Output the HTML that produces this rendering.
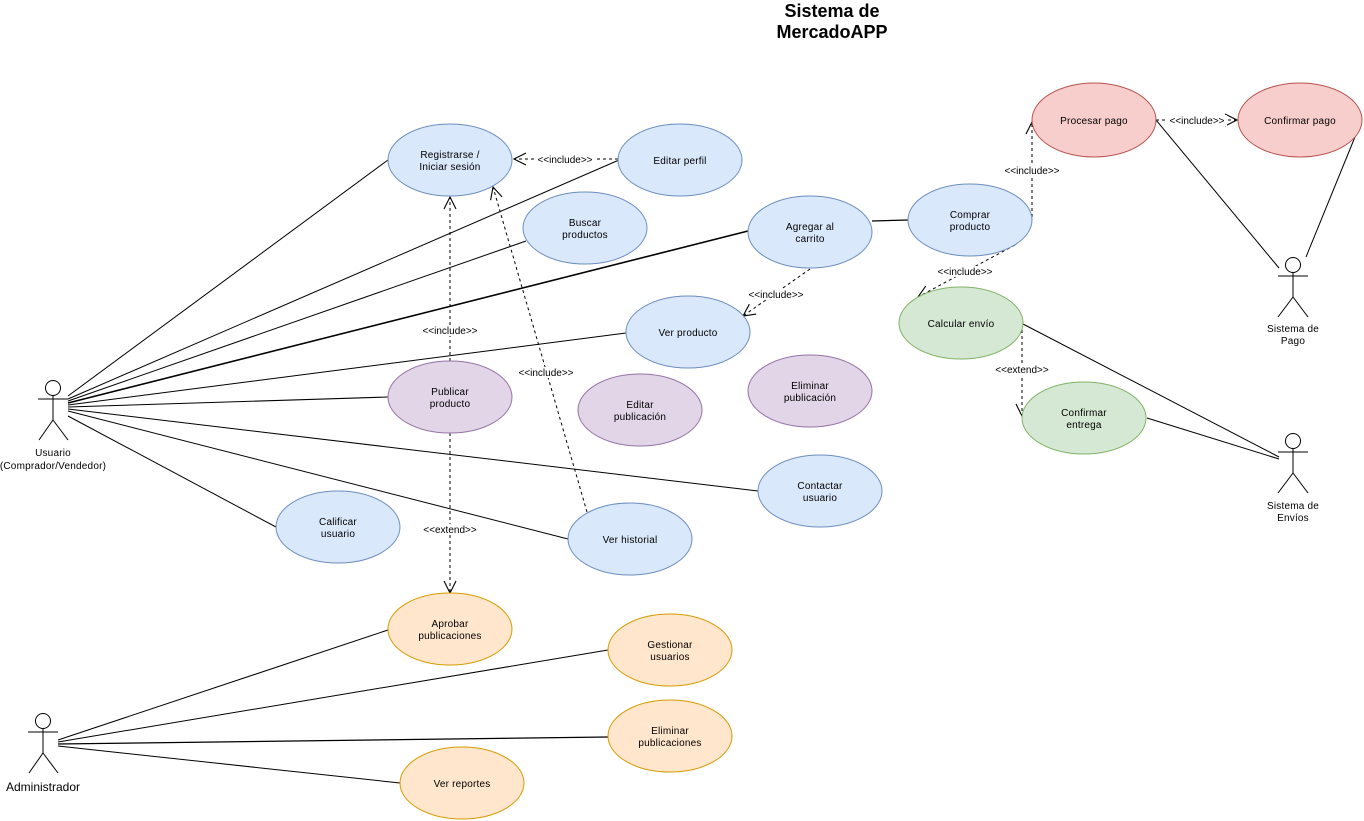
<!DOCTYPE html>
<html><head><meta charset="utf-8">
<style>
html,body{margin:0;padding:0;background:#fff;}
svg{display:block;}
text{font-family:"Liberation Sans",Arial,sans-serif;}
</style></head>
<body>
<svg width="1364" height="821" viewBox="0 0 1364 821" xmlns="http://www.w3.org/2000/svg">
<defs>
<marker id="oa" markerUnits="userSpaceOnUse" markerWidth="16" markerHeight="16" refX="13" refY="7" orient="auto" overflow="visible">
<path d="M1,1 L13,7 L1,13" fill="none" stroke="#000" stroke-width="1.1" stroke-dasharray="none"/>
</marker>
</defs>
<rect width="1364" height="821" fill="#fff"/>

<!-- Title -->
<text x="832" y="17" font-size="18" font-weight="bold" text-anchor="middle">Sistema de</text>
<text x="832" y="38" font-size="18" font-weight="bold" text-anchor="middle">MercadoAPP</text>

<!-- Association lines from Usuario -->
<g stroke="#000" stroke-width="1" fill="none">
<line x1="68" y1="396" x2="388" y2="160"/>
<line x1="68" y1="399" x2="619" y2="160"/>
<line x1="68" y1="401" x2="526" y2="241"/>
<line x1="68" y1="403" x2="748" y2="231" stroke-width="1.6"/>
<line x1="68" y1="405" x2="626" y2="333"/>
<line x1="68" y1="407" x2="388" y2="397"/>
<line x1="68" y1="409" x2="758" y2="491"/>
<line x1="68" y1="411" x2="568" y2="539"/>
<line x1="68" y1="416" x2="276" y2="527"/>
<!-- Administrador -->
<line x1="58" y1="740" x2="388" y2="630"/>
<line x1="58" y1="742" x2="608" y2="650"/>
<line x1="58" y1="744" x2="608" y2="737" stroke-width="1.3"/>
<line x1="58" y1="746" x2="400" y2="783"/>
<!-- Agregar to Comprar -->
<line x1="872" y1="221" x2="908" y2="220" stroke-width="1.3"/>
<!-- Sistema de Pago -->
<line x1="1156" y1="120" x2="1279" y2="268"/>
<line x1="1357" y1="132" x2="1306" y2="257"/>
<!-- Sistema de Envios -->
<line x1="1023" y1="324" x2="1279" y2="457"/>
<line x1="1147" y1="418" x2="1279" y2="459"/>
</g>

<!-- Dashed dependency lines -->
<g stroke="#000" stroke-width="1" fill="none">
<line x1="618" y1="159" x2="514" y2="159" stroke-dasharray="3 3" marker-end="url(#oa)"/>
<line x1="450" y1="361" x2="450" y2="197" stroke-dasharray="3 3" marker-end="url(#oa)"/>
<line x1="587" y1="512" x2="493" y2="187" stroke-dasharray="3 3" marker-end="url(#oa)"/>
<line x1="810" y1="269" x2="743" y2="316" stroke-dasharray="3 3" marker-end="url(#oa)"/>
<line x1="1032" y1="217" x2="1032" y2="122" stroke-dasharray="3 3" marker-end="url(#oa)"/>
<line x1="1015" y1="245" x2="918" y2="297" stroke-dasharray="3 3" marker-end="url(#oa)"/>
<line x1="1156" y1="120" x2="1237" y2="120" stroke-dasharray="3 3" marker-end="url(#oa)"/>
<line x1="1022" y1="330" x2="1022" y2="416" stroke-dasharray="3 3" marker-end="url(#oa)"/>
<line x1="450" y1="433" x2="450" y2="593" stroke-dasharray="3 3" marker-end="url(#oa)"/>
</g>

<!-- Ellipses -->
<g stroke-width="1">
<ellipse cx="450" cy="160" rx="62" ry="36" fill="#dae8fc" stroke="#6c8ebf"/>
<ellipse cx="680" cy="160" rx="62" ry="36" fill="#dae8fc" stroke="#6c8ebf"/>
<ellipse cx="585" cy="228" rx="62" ry="36" fill="#dae8fc" stroke="#6c8ebf"/>
<ellipse cx="810" cy="232" rx="62" ry="36" fill="#dae8fc" stroke="#6c8ebf"/>
<ellipse cx="970" cy="220" rx="62" ry="36" fill="#dae8fc" stroke="#6c8ebf"/>
<ellipse cx="1094" cy="120" rx="62" ry="37" fill="#f8cecc" stroke="#b85450"/>
<ellipse cx="1300" cy="120" rx="62" ry="37" fill="#f8cecc" stroke="#b85450"/>
<ellipse cx="688" cy="332" rx="62" ry="36" fill="#dae8fc" stroke="#6c8ebf"/>
<ellipse cx="961" cy="323" rx="62" ry="36" fill="#d5e8d4" stroke="#82b366"/>
<ellipse cx="1084" cy="418" rx="62" ry="36" fill="#d5e8d4" stroke="#82b366"/>
<ellipse cx="450" cy="397" rx="62" ry="36" fill="#e1d5e7" stroke="#9673a6"/>
<ellipse cx="640" cy="410" rx="62" ry="36" fill="#e1d5e7" stroke="#9673a6"/>
<ellipse cx="810" cy="391" rx="62" ry="36" fill="#e1d5e7" stroke="#9673a6"/>
<ellipse cx="820" cy="491" rx="62" ry="36" fill="#dae8fc" stroke="#6c8ebf"/>
<ellipse cx="338" cy="527" rx="62" ry="36" fill="#dae8fc" stroke="#6c8ebf"/>
<ellipse cx="630" cy="539" rx="62" ry="36" fill="#dae8fc" stroke="#6c8ebf"/>
<ellipse cx="450" cy="629" rx="62" ry="36" fill="#ffe6cc" stroke="#d79b00"/>
<ellipse cx="670" cy="650" rx="62" ry="36" fill="#ffe6cc" stroke="#d79b00"/>
<ellipse cx="670" cy="736" rx="62" ry="36" fill="#ffe6cc" stroke="#d79b00"/>
<ellipse cx="462" cy="783" rx="62" ry="36" fill="#ffe6cc" stroke="#d79b00"/>
</g>

<!-- Ellipse labels -->
<g font-size="10" text-anchor="middle" fill="#000" letter-spacing="0.2">
<text x="450" y="158">Registrarse /</text><text x="450" y="170">Iniciar sesión</text>
<text x="680" y="164">Editar perfil</text>
<text x="585" y="226">Buscar</text><text x="585" y="238">productos</text>
<text x="810" y="230">Agregar al</text><text x="810" y="242">carrito</text>
<text x="970" y="218">Comprar</text><text x="970" y="230">producto</text>
<text x="1094" y="124">Procesar pago</text>
<text x="1300" y="124">Confirmar pago</text>
<text x="688" y="336">Ver producto</text>
<text x="961" y="327">Calcular envío</text>
<text x="1084" y="416">Confirmar</text><text x="1084" y="428">entrega</text>
<text x="450" y="395">Publicar</text><text x="450" y="407">producto</text>
<text x="640" y="408">Editar</text><text x="640" y="420">publicación</text>
<text x="810" y="389">Eliminar</text><text x="810" y="401">publicación</text>
<text x="820" y="489">Contactar</text><text x="820" y="501">usuario</text>
<text x="338" y="525">Calificar</text><text x="338" y="537">usuario</text>
<text x="630" y="543">Ver historial</text>
<text x="450" y="627">Aprobar</text><text x="450" y="639">publicaciones</text>
<text x="670" y="648">Gestionar</text><text x="670" y="660">usuarios</text>
<text x="670" y="734">Eliminar</text><text x="670" y="746">publicaciones</text>
<text x="462" y="787">Ver reportes</text>
</g>

<!-- Connector labels with white background -->
<g fill="#fff">
<rect x="536" y="154" width="58" height="11"/>
<rect x="421" y="325" width="58" height="11"/>
<rect x="517" y="367" width="58" height="11"/>
<rect x="747" y="289" width="58" height="11"/>
<rect x="1003" y="165" width="58" height="11"/>
<rect x="936" y="266" width="58" height="11"/>
<rect x="1167" y="115" width="60" height="11"/>
<rect x="993" y="364" width="58" height="11"/>
<rect x="421" y="524" width="58" height="11"/>
</g>
<g font-size="10" text-anchor="middle" fill="#000">
<text x="565" y="163">&lt;&lt;include&gt;&gt;</text>
<text x="450" y="334">&lt;&lt;include&gt;&gt;</text>
<text x="546" y="376">&lt;&lt;include&gt;&gt;</text>
<text x="776" y="298">&lt;&lt;include&gt;&gt;</text>
<text x="1032" y="174">&lt;&lt;include&gt;&gt;</text>
<text x="965" y="275">&lt;&lt;include&gt;&gt;</text>
<text x="1197" y="124">&lt;&lt;include&gt;&gt;</text>
<text x="1022" y="373">&lt;&lt;extend&gt;&gt;</text>
<text x="450" y="533">&lt;&lt;extend&gt;&gt;</text>
</g>

<!-- Actors -->
<g stroke="#000" stroke-width="1" fill="#fff">
<!-- Usuario -->
<circle cx="53" cy="388" r="7.5"/>
<line x1="53" y1="395.5" x2="53" y2="420"/>
<line x1="38" y1="399" x2="68" y2="399"/>
<line x1="53" y1="420" x2="39" y2="440"/>
<line x1="53" y1="420" x2="68" y2="440"/>
<!-- Administrador -->
<circle cx="43" cy="721" r="7.5"/>
<line x1="43" y1="728.5" x2="43" y2="753"/>
<line x1="28" y1="732" x2="58" y2="732"/>
<line x1="43" y1="753" x2="29" y2="773"/>
<line x1="43" y1="753" x2="58" y2="773"/>
<!-- Sistema de Pago -->
<circle cx="1293" cy="265" r="7.5"/>
<line x1="1293" y1="272.5" x2="1293" y2="297"/>
<line x1="1278" y1="276" x2="1308" y2="276"/>
<line x1="1293" y1="297" x2="1278" y2="317"/>
<line x1="1293" y1="297" x2="1308" y2="317"/>
<!-- Sistema de Envios -->
<circle cx="1293" cy="441" r="7.5"/>
<line x1="1293" y1="448.5" x2="1293" y2="473"/>
<line x1="1278" y1="452" x2="1308" y2="452"/>
<line x1="1293" y1="473" x2="1278" y2="493"/>
<line x1="1293" y1="473" x2="1308" y2="493"/>
</g>
<g font-size="10" text-anchor="middle" fill="#000" letter-spacing="0.2">
<text x="53" y="456">Usuario</text>
<text x="53" y="469">(Comprador/Vendedor)</text>
<text x="1293" y="332">Sistema de</text>
<text x="1293" y="344">Pago</text>
<text x="1293" y="509">Sistema de</text>
<text x="1293" y="521">Envíos</text>
</g>
<text x="43" y="791" font-size="12" text-anchor="middle">Administrador</text>
</svg>
</body></html>
